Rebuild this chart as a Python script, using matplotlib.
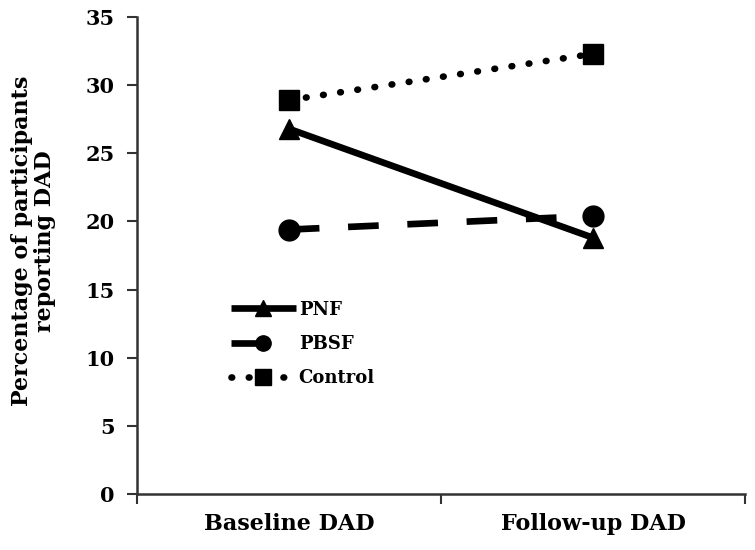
"""Percentage of participants reporting DAD, baseline vs follow-up"""

import matplotlib
matplotlib.use("Agg")
import matplotlib.pyplot as plt
from matplotlib.lines import Line2D
from matplotlib.ticker import FixedLocator

CATEGORIES = ["Baseline DAD", "Follow-up DAD"]
PNF = [26.8, 18.8]
PBSF = [19.4, 20.4]
CONTROL = [28.9, 32.3]
SERIES_NAMES = ["PNF", "PBSF", "Control"]

FONT = "DejaVu Serif"
DPI = 100
LW = 4.8

fig = plt.figure(figsize=(7.55, 5.5), dpi=DPI)
ax = fig.add_axes([0.181, 0.102, 0.806, 0.867])

x = list(range(len(CATEGORIES)))

ax.plot(x, PNF, "-", color="black", lw=LW, marker="^", ms=15,
        solid_capstyle="butt")
ax.plot(x, PBSF, color="black", lw=LW, marker="o", ms=15,
        dashes=(4.6, 4.3), dash_capstyle="butt")
ax.plot(x, CONTROL, color="black", lw=LW, marker="s", ms=15,
        dashes=(0.1, 2.5), dash_capstyle="round")

ax.set_xlim(-0.5, len(CATEGORIES) - 0.5)
ax.set_ylim(0, 35)
ax.set_yticks(range(0, 36, 5))
ax.set_xticks(x)
ax.set_xticklabels(CATEGORIES)
ax.xaxis.set_minor_locator(FixedLocator([-0.5, 0.5, 1.5]))
ax.tick_params(axis="x", which="major", length=0, pad=14)
ax.tick_params(axis="x", which="minor", length=7, width=1.5, direction="out",
               color="#333333")
ax.tick_params(axis="y", length=7, width=1.5, direction="out", pad=9,
               color="#333333")

for lab in ax.get_yticklabels():
    lab.set_fontfamily(FONT)
    lab.set_fontweight("bold")
    lab.set_fontsize(15)
for lab in ax.get_xticklabels():
    lab.set_fontfamily(FONT)
    lab.set_fontweight("bold")
    lab.set_fontsize(16)

for side in ["top", "right"]:
    ax.spines[side].set_visible(False)
for side in ["left", "bottom"]:
    ax.spines[side].set_linewidth(1.8)
    ax.spines[side].set_color("#333333")

ax.set_ylabel("Percentage of participants\nreporting DAD", fontfamily=FONT,
              fontweight="bold", fontsize=16, linespacing=1.05)
ax.yaxis.set_label_coords(-0.133, 0.53)

# legend proxies, drawn the way the spreadsheet legend shows them
handles = [
    Line2D([], [], color="black", lw=LW, marker="^", ms=11,
           solid_capstyle="butt"),
    Line2D([], [], color="black", lw=LW, marker="o", ms=11,
           dashes=(5, 5), dash_capstyle="butt"),
    Line2D([], [], color="black", lw=LW, marker="s", ms=11,
           dashes=(0.1, 2.5), dash_capstyle="round"),
]
ax.legend(handles, SERIES_NAMES, loc="upper left",
          bbox_to_anchor=(0.155, 0.405), frameon=False,
          borderpad=0, borderaxespad=0,
          handlelength=3.6, handletextpad=0.15, labelspacing=0.9,
          prop={"family": FONT, "weight": "bold", "size": 13})

plt.savefig("out.png", dpi=DPI)
